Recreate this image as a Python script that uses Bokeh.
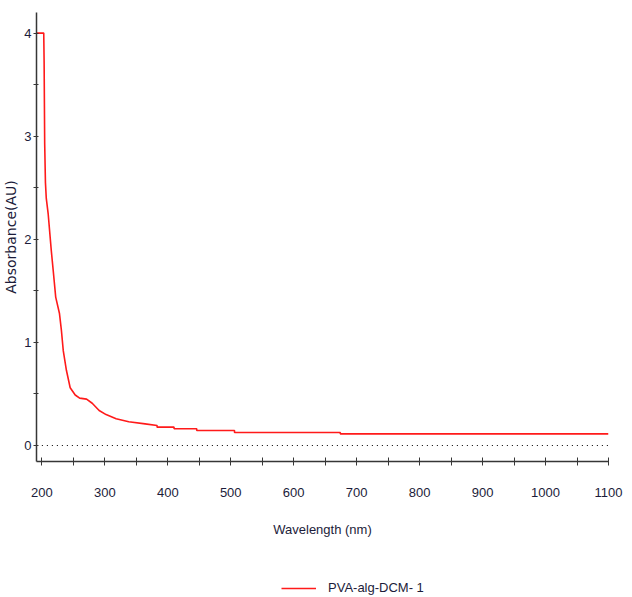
from bokeh.plotting import figure
from bokeh.layouts import column
from bokeh.models import Range1d, FixedTicker, Legend, LegendItem
from bokeh.embed import file_html
from bokeh.resources import INLINE

# ---- data ----
wavelength = [192, 203, 203.6, 204.5, 205.7, 207, 210, 215, 218, 222, 228, 231, 234, 239,
              245, 253, 260, 271, 280, 291, 302, 318, 338, 364, 383, 383, 410, 410,
              446, 446, 506, 506, 674, 674, 1100]
absorbance = [4.00, 4.00, 3.72, 2.93, 2.55, 2.40, 2.25, 1.89, 1.70, 1.44, 1.28, 1.12, 0.92, 0.73,
              0.56, 0.49, 0.46, 0.45, 0.41, 0.34, 0.30, 0.26, 0.23, 0.21, 0.194, 0.178, 0.178, 0.162,
              0.162, 0.146, 0.146, 0.126, 0.126, 0.113, 0.113]
baseline_x = [200, 1100]
baseline_y = [0, 0]
x_major_ticks = [200, 300, 400, 500, 600, 700, 800, 900, 1000, 1100]
x_minor_ticks = [250, 350, 450, 550, 650, 750, 850, 950, 1050]
y_major_ticks = [0, 1, 2, 3, 4]
y_minor_ticks = [0.5, 1.5, 2.5, 3.5]
series_name = "PVA-alg-DCM- 1"

line_color = "#ff1a1a"
ax_col = "#363636"
lab_col = "#1c1c3a"
font = "Liberation Sans"

# ---- main chart ----
p = figure(width=624, height=545, output_backend="svg", toolbar_location=None,
           x_range=Range1d(191.5, 1100), y_range=Range1d(-0.155, 4.2),
           min_border_left=28, min_border_right=16, min_border_top=12, min_border_bottom=84)
p.grid.visible = False
p.outline_line_color = None

xa = p.xaxis[0]
xa.ticker = FixedTicker(ticks=x_major_ticks, minor_ticks=x_minor_ticks)
xa.axis_line_color = ax_col
xa.axis_line_width = 1.5
xa.major_tick_line_color = ax_col
xa.minor_tick_line_color = ax_col
xa.major_tick_in = 4
xa.major_tick_out = 4
xa.minor_tick_in = 4
xa.minor_tick_out = 4
xa.major_label_standoff = 22
xa.major_label_text_font = font
xa.major_label_text_font_size = "13px"
xa.major_label_text_color = lab_col
xa.axis_label = "Wavelength (nm)"
xa.axis_label_text_font = font
xa.axis_label_text_font_size = "13px"
xa.axis_label_text_font_style = "normal"
xa.axis_label_text_color = lab_col
xa.axis_label_standoff = 22

ya = p.yaxis[0]
ya.ticker = FixedTicker(ticks=y_major_ticks, minor_ticks=y_minor_ticks)
ya.axis_line_color = ax_col
ya.axis_line_width = 1.5
ya.major_tick_line_color = ax_col
ya.minor_tick_line_color = ax_col
ya.major_tick_in = 2
ya.major_tick_out = 3
ya.minor_tick_in = 2
ya.minor_tick_out = 3
ya.major_label_standoff = 2
ya.major_label_text_font = font
ya.major_label_text_font_size = "13px"
ya.major_label_text_color = lab_col
ya.axis_label = "Absorbance(AU)"
ya.axis_label_text_font = "DejaVu Sans"
ya.axis_label_text_font_size = "14px"
ya.axis_label_text_font_style = "normal"
ya.axis_label_text_color = lab_col
ya.axis_label_standoff = 2

p.line(baseline_x, baseline_y, line_color="black", line_width=1.2, line_dash="1 4")
p.line(wavelength, absorbance, line_color=line_color, line_width=1.6)

# ---- legend strip below the chart ----
p2 = figure(width=624, height=52, output_backend="svg", toolbar_location=None,
            x_range=Range1d(0, 1), y_range=Range1d(0, 1),
            x_axis_location=None, y_axis_location=None,
            min_border_left=0, min_border_right=0, min_border_top=0, min_border_bottom=0)
p2.grid.visible = False
p2.outline_line_color = None
r2 = p2.line(wavelength, absorbance, line_color=line_color, line_width=1.6)

legend = Legend(items=[LegendItem(label=series_name, renderers=[r2])],
                location=(245, 2), orientation="horizontal",
                glyph_width=35, glyph_height=14, label_standoff=12,
                label_text_font=font, label_text_font_size="13px", label_text_color=lab_col,
                border_line_color=None, background_fill_alpha=0, margin=0, padding=2)
p2.add_layout(legend, "center")

layout = column(p, p2, spacing=0)
open("out.html", "w").write(file_html(layout, INLINE))
